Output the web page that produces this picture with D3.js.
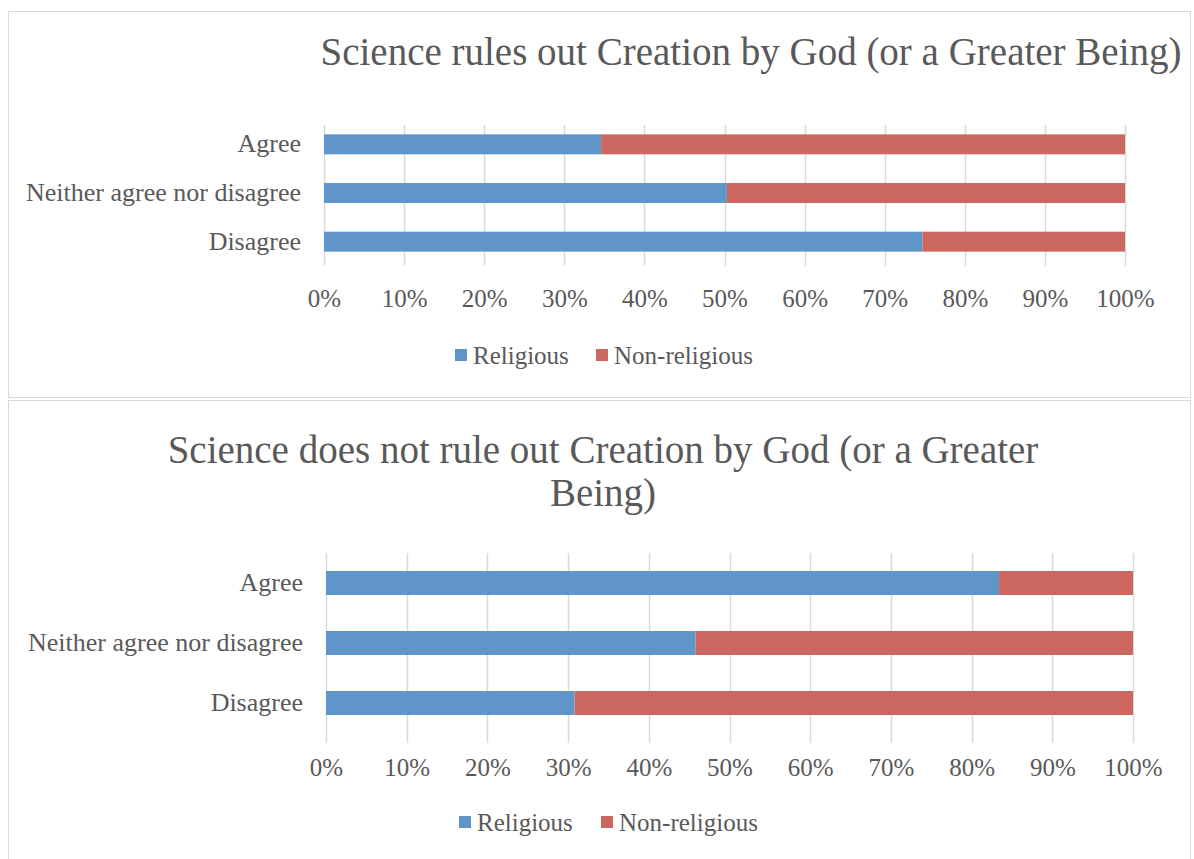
<!DOCTYPE html>
<html><head><meta charset="utf-8">
<script src="https://cdn.jsdelivr.net/npm/d3@7"></script>
<style>body{margin:0;background:#fff}svg{display:block}text{font-family:"Liberation Serif","DejaVu Serif",serif;fill:#595959}</style>
</head><body><svg id="c" width="1194" height="859"></svg>
<script>
const categories = ["Agree", "Neither agree nor disagree", "Disagree"];
const series = ["Religious", "Non-religious"];
const colors = ["#5F95C8", "#CC6760"];
const ticks = [0, 0.1, 0.2, 0.3, 0.4, 0.5, 0.6, 0.7, 0.8, 0.9, 1.0];
const titles1 = ["Science rules out Creation by God (or a Greater Being)"];
const titles2 = ["Science does not rule out Creation by God (or a Greater", "Being)"];
const religious1 = [0.346, 0.503, 0.747];
const religious2 = [0.834, 0.458, 0.308];

const svg = d3.select("#c");
svg.append("rect").attr("x",8.5).attr("y",11.5).attr("width",1182).attr("height",386).attr("fill","none").attr("stroke","#d9d9d9");
svg.append("rect").attr("x",8.5).attr("y",400.5).attr("width",1182).attr("height",470).attr("fill","none").attr("stroke","#d9d9d9");

function hs(el, ax, sx){ el.attr("transform",`translate(${ax},0) scale(${sx},1) translate(${-ax},0)`); }

function chart(cfg){
  const g = svg.append("g");
  const x = d3.scaleLinear().domain([0,1]).range([cfg.x0,cfg.x1]);
  const y = d3.scaleBand().domain(categories).range([cfg.y0,cfg.y1]).paddingInner(cfg.pad).paddingOuter(cfg.pad/2);
  cfg.titles.forEach((t,i)=>{
    g.append("text").attr("x",cfg.tx).attr("y",cfg.ty+i*cfg.tlh).attr("text-anchor","middle")
      .attr("font-size",cfg.tfs).text(t);
  });
  g.append("g").selectAll("line").data(ticks).join("line")
    .attr("x1",d=>Math.round(x(d))+0.5).attr("x2",d=>Math.round(x(d))+0.5)
    .attr("y1",cfg.gy0).attr("y2",cfg.gy1).attr("stroke","#d9d9d9").attr("stroke-width",1.5);
  const stacked = categories.map((c,i)=>({c, r:cfg.rel[i], n:1-cfg.rel[i]}));
  g.append("g").selectAll("rect").data(stacked).join("rect")
    .attr("x",x(0)).attr("y",d=>y(d.c)).attr("height",y.bandwidth()).attr("width",d=>x(d.r)-x(0)).attr("fill",colors[0]);
  g.append("g").selectAll("rect").data(stacked).join("rect")
    .attr("x",d=>x(d.r)).attr("y",d=>y(d.c)).attr("height",y.bandwidth()).attr("width",d=>x(1)-x(d.r)).attr("fill",colors[1]);
  const ya = d3.axisLeft(y).tickSize(0).tickPadding(23);
  const yg = g.append("g").attr("transform",`translate(${cfg.x0},0)`).call(ya);
  yg.select(".domain").remove();
  yg.selectAll("text").attr("font-size",cfg.fs).attr("fill","#595959").attr("font-family","Liberation Serif")
    .each(function(){hs(d3.select(this), -23, cfg.csx);});
  const xa = d3.axisBottom(x).tickValues(ticks).tickFormat(d3.format(".0%")).tickSize(0).tickPadding(0);
  const xg = g.append("g").attr("transform",`translate(0,${cfg.xly})`).call(xa);
  xg.select(".domain").remove();
  xg.selectAll("text").attr("font-size",cfg.fs).attr("fill","#595959").attr("font-family","Liberation Serif").attr("dy","0.35em");
  const lg = g.append("g");
  series.forEach((s,i)=>{
    lg.append("rect").attr("x",cfg.lx[i]).attr("y",cfg.ly-6).attr("width",12).attr("height",12).attr("fill",colors[i]);
    lg.append("text").attr("x",cfg.lx[i]+18).attr("y",cfg.ly).attr("dy","0.35em").attr("font-size",cfg.fs).text(s);
  });
}
chart({x0:324,x1:1125,y0:120,y1:266,pad:0.59,gy0:125,gy1:266,xly:298,titles:titles1,tx:751,ty:65,tlh:0,tfs:39,fs:25,csx:1.04,rel:religious1,lx:[455,596],ly:355});
chart({x0:326,x1:1133,y0:553,y1:733,pad:0.6,gy0:553,gy1:743,xly:767,titles:titles2,tx:603,ty:463,tlh:43,tfs:39,fs:25,csx:1.04,rel:religious2,lx:[459,601],ly:822});
</script></body></html>
